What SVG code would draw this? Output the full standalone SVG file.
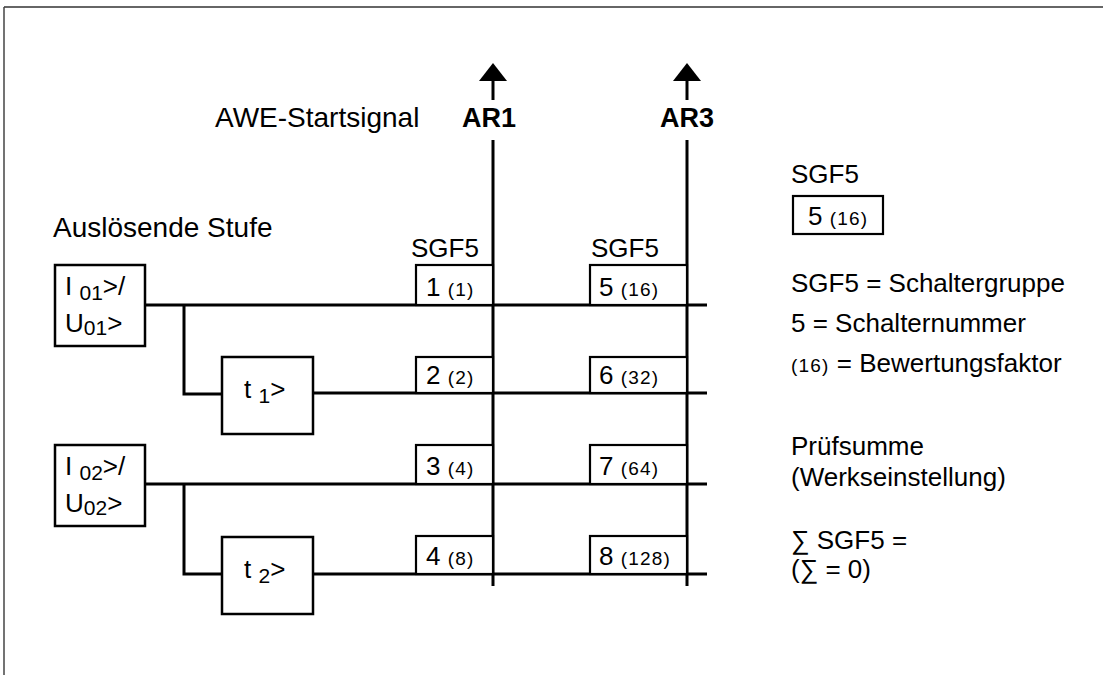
<svg xmlns="http://www.w3.org/2000/svg" width="1103" height="675" viewBox="0 0 1103 675">
<style>
text{font-family:"Liberation Sans",Arial,sans-serif;fill:#000}
.lbl{font-size:28px}
.t{font-size:26px}
.s{font-size:19px;letter-spacing:1.2px}
.sub{font-size:21px}
.b{font-size:27px;font-weight:bold}
.box{fill:#fff;stroke:#000;stroke-width:2.5}
.sw{fill:#fff;stroke:#000;stroke-width:2.2}
.ln{stroke:#000;stroke-width:3;fill:none}
</style>
<rect width="1103" height="675" fill="#fff"/>
<g id="frame">
<line x1="4" y1="7" x2="1103" y2="7" stroke="#666" stroke-width="2"/>
<line x1="4" y1="7" x2="4" y2="675" stroke="#444" stroke-width="1.5"/>
</g>
<g id="connectors">
<line class="ln" x1="145" y1="305" x2="707" y2="305"/>
<line class="ln" x1="313" y1="393" x2="707" y2="393"/>
<line class="ln" x1="145" y1="484" x2="707" y2="484"/>
<line class="ln" x1="313" y1="574" x2="707" y2="574"/>
<polyline class="ln" points="184,305 184,394 222,394"/>
<polyline class="ln" points="184,484 184,574 222,574"/>
<line class="ln" x1="493" y1="78" x2="493" y2="100"/>
<line class="ln" x1="493" y1="140" x2="493" y2="586"/>
<line class="ln" x1="687" y1="78" x2="687" y2="100"/>
<line class="ln" x1="687" y1="140" x2="687" y2="586"/>
<polygon points="493,63 479,81 507,81" fill="#000"/>
<polygon points="687,63 673,81 701,81" fill="#000"/>
</g>
<g id="labels">
<text class="lbl" x="215" y="127">AWE-Startsignal</text>
<text class="b" x="489" y="127" text-anchor="middle">AR1</text>
<text class="b" x="687" y="127" text-anchor="middle">AR3</text>
<text class="lbl" x="53" y="237">Auslösende Stufe</text>
<text class="t" x="411" y="257">SGF5</text>
<text class="t" x="591" y="257">SGF5</text>
</g>
<g id="I01">
<rect class="box" x="55" y="265" width="90" height="81"/>
<text class="t" x="65" y="295">I <tspan class="sub" dy="5">01</tspan><tspan dy="-5">&gt;/</tspan></text>
<text class="t" x="65" y="332">U<tspan class="sub" dy="3">01</tspan><tspan dy="-3">&gt;</tspan></text>
</g>
<g id="I02">
<rect class="box" x="55" y="445" width="90" height="81"/>
<text class="t" x="65" y="475">I <tspan class="sub" dy="5">02</tspan><tspan dy="-5">&gt;/</tspan></text>
<text class="t" x="65" y="512">U<tspan class="sub" dy="3">02</tspan><tspan dy="-3">&gt;</tspan></text>
</g>
<g id="t1">
<rect class="box" x="222" y="357" width="91" height="77"/>
<text class="t" x="244" y="398">t <tspan class="sub" dy="5">1</tspan><tspan dy="-5">&gt;</tspan></text>
</g>
<g id="t2">
<rect class="box" x="222" y="537" width="91" height="77"/>
<text class="t" x="244" y="578">t <tspan class="sub" dy="5">2</tspan><tspan dy="-5">&gt;</tspan></text>
</g>
<g id="sw1"><rect class="sw" x="416" y="265" width="77" height="40"/><text class="t" x="426" y="296">1 <tspan class="s">(1)</tspan></text></g>
<g id="sw2"><rect class="sw" x="416" y="357" width="77" height="36"/><text class="t" x="426" y="384">2 <tspan class="s">(2)</tspan></text></g>
<g id="sw3"><rect class="sw" x="416" y="445" width="77" height="39"/><text class="t" x="426" y="475">3 <tspan class="s">(4)</tspan></text></g>
<g id="sw4"><rect class="sw" x="416" y="536" width="77" height="38"/><text class="t" x="426" y="565">4 <tspan class="s">(8)</tspan></text></g>
<g id="sw5"><rect class="sw" x="590" y="265" width="97" height="40"/><text class="t" x="599" y="296">5 <tspan class="s">(16)</tspan></text></g>
<g id="sw6"><rect class="sw" x="590" y="357" width="97" height="36"/><text class="t" x="599" y="384">6 <tspan class="s">(32)</tspan></text></g>
<g id="sw7"><rect class="sw" x="590" y="445" width="97" height="39"/><text class="t" x="599" y="475">7 <tspan class="s">(64)</tspan></text></g>
<g id="sw8"><rect class="sw" x="590" y="536" width="97" height="38"/><text class="t" x="599" y="565">8 <tspan class="s">(128)</tspan></text></g>
<g id="legend">
<text class="t" x="791" y="183">SGF5</text>
<rect class="sw" x="793" y="196" width="90" height="38"/>
<text class="t" x="808" y="225">5 <tspan class="s">(16)</tspan></text>
<text class="t" x="791" y="292">SGF5 = Schaltergruppe</text>
<text class="t" x="791" y="332">5 = Schalternummer</text>
<text class="t" x="791" y="372"><tspan class="s">(16)</tspan> = Bewertungsfaktor</text>
<text class="t" x="791" y="455">Prüfsumme</text>
<text class="t" x="791" y="486">(Werkseinstellung)</text>
<text class="t" x="791" y="549">∑ SGF5 =</text>
<text class="t" x="791" y="578">(∑ = 0)</text>
</g>
</svg>
